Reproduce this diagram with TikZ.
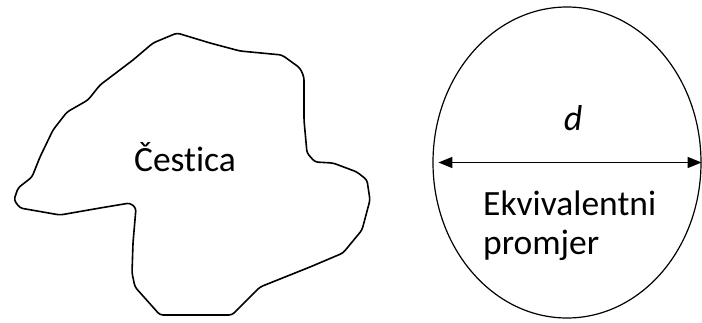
\documentclass[tikz,border=0pt]{standalone}
\usepackage{fontspec}
\setmainfont{Carlito}[Ligatures={NoCommon}]
\usetikzlibrary{shapes.geometric,arrows.meta}
\begin{document}
\begin{tikzpicture}[x=1pt,y=-1pt,
  outline/.style = {line width=1.6pt, line join=round, rounded corners=3pt},
  arrow/.style = {line width=1.5pt, {Triangle[length=14pt,width=11pt]}-{Triangle[length=14pt,width=11pt]}},
  label/.style = {font=\fontsize{35.5}{40}\selectfont, inner sep=0pt}]
  \useasboundingbox (0,0) rectangle (702,322);
  \draw[outline] (177,33) -- (153,43) -- (133,60) -- (100,85) -- (88,100) -- (67,112)
    -- (53,130) -- (40,157) -- (32,177) -- (18,188) -- (14,200) -- (20,208)
    -- (60,215) -- (100,208) -- (130,203) -- (136,208) -- (133,243) -- (132,273)
    -- (135,287) -- (160,315) -- (232,315) -- (260,287) -- (310,267) -- (343,253)
    -- (362,230) -- (370,200) -- (367,180) -- (357,172) -- (333,163) -- (315,162)
    -- (307,153) -- (304,120) -- (304,77) -- (300,68) -- (282,55) -- (240,51)
    -- (210,43) -- cycle;
  \node[label] (cestica) at (185,157) {Čestica};
  \node[draw, line width=1.2pt, ellipse, minimum width=268pt, minimum height=311pt, inner sep=0pt] (sfera) at (567,162.5) {};
  \draw[arrow, shorten <=6pt] (sfera.west) -- (sfera.east);
  \node[label, font=\fontsize{36}{40}\selectfont\itshape] (d) at (573,118) {d};
  \node[label, anchor=base west] (ekv) at (483,215) {Ekvivalentni};
  \node[label, anchor=base west] (promjer) at (483,254) {promjer};
\end{tikzpicture}
\end{document}
